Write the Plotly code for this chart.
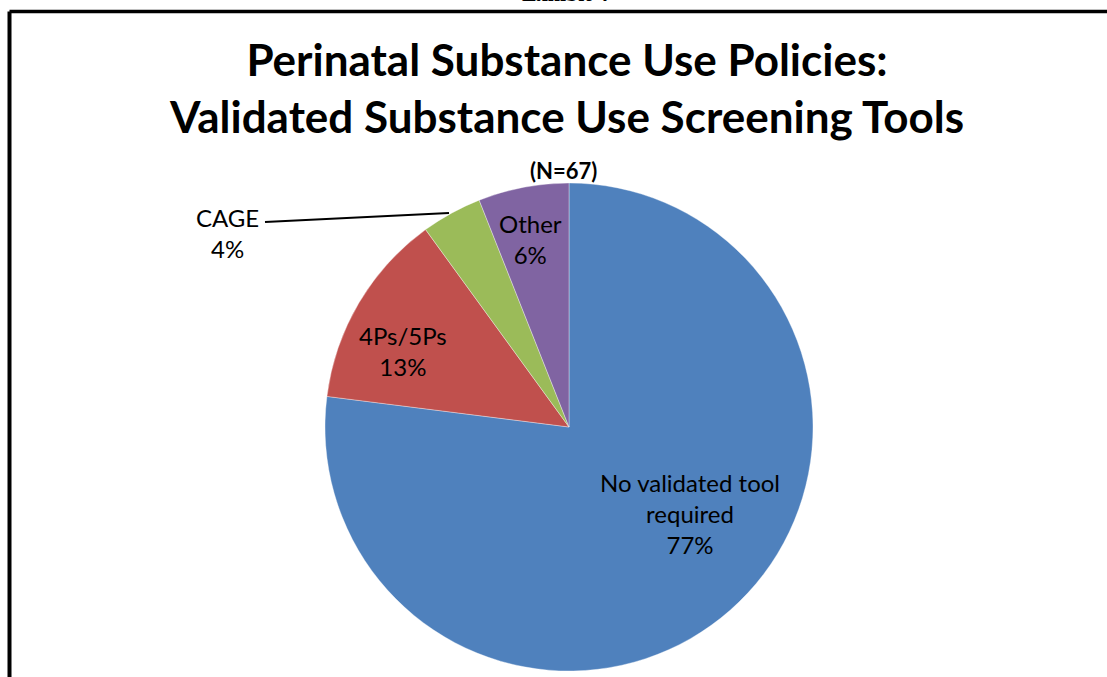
import plotly.graph_objects as go

# Screening tool categories and their share of policies (%)
categories = ["No validated tool required", "4Ps/5Ps", "CAGE", "Other"]
shares = [77, 13, 4, 6]
colors = ["#4F81BD", "#C0504D", "#9BBB59", "#8064A2"]

W, H = 1107, 677


def px(x):
    return x / W


def py(y):
    return 1 - y / H


fig = go.Figure(
    go.Pie(
        labels=categories,
        values=shares,
        sort=False,
        direction="clockwise",
        rotation=0,
        marker=dict(colors=colors, line=dict(color="rgba(255,255,255,0.6)", width=0.6)),
        textinfo="none",
        hoverinfo="label+percent",
        showlegend=False,
        domain=dict(x=[px(325), px(813)], y=[1 - 671 / H, 1 - 183 / H]),
    )
)

label_font = dict(family="Lato, sans-serif", size=24, color="black")
title_font = dict(family="Lato, sans-serif", size=44, color="black", weight="bold")

# Data label text per slice, with its placement on the page
label_pos = {
    "No validated tool required": (690, 513),
    "4Ps/5Ps": (403, 351),
    "CAGE": (227, 233),
    "Other": (530, 239),
}
label_text = {
    "No validated tool required": "No validated tool<br>required",
}

annotations = []
for cat, val in zip(categories, shares):
    x, y = label_pos[cat]
    annotations.append(
        dict(
            x=px(x), y=py(y), xref="paper", yref="paper",
            text=f"{label_text.get(cat, cat)}<br>{val}%",
            showarrow=False, font=label_font, align="center",
            xanchor="center", yanchor="middle",
        )
    )

annotations += [
    dict(x=px(566), y=py(87.5), xref="paper", yref="paper",
         text="Perinatal Substance Use Policies:<br>Validated Substance Use Screening Tools",
         showarrow=False, font=title_font, align="center",
         xanchor="center", yanchor="middle"),
    dict(x=px(563), y=py(170), xref="paper", yref="paper",
         text="(N=67)", showarrow=False,
         font=dict(family="Lato, sans-serif", size=22, color="black", weight="bold"),
         xanchor="center", yanchor="middle"),
    dict(x=px(565), y=py(8.5), xref="paper", yref="paper",
         text="Exhibit 4", showarrow=False,
         font=dict(family="Liberation Serif, serif", size=22, color="black", weight="bold"),
         xanchor="center", yanchor="bottom"),
]

shapes = [
    # frame around the exhibit
    dict(type="line", xref="paper", yref="paper",
         x0=px(9.5), y0=py(11.5), x1=1.05, y1=py(11.5),
         line=dict(color="black", width=3.5)),
    dict(type="line", xref="paper", yref="paper",
         x0=px(9.5), y0=py(11.5), x1=px(9.5), y1=-0.05,
         line=dict(color="black", width=4)),
    # leader line for the CAGE label
    dict(type="line", xref="paper", yref="paper",
         x0=px(265), y0=py(222), x1=px(449), y1=py(213),
         line=dict(color="black", width=2)),
]

fig.update_layout(
    width=W, height=H,
    margin=dict(l=0, r=0, t=0, b=0),
    paper_bgcolor="white", plot_bgcolor="white",
    annotations=annotations, shapes=shapes,
)

fig.write_html("out.html")
